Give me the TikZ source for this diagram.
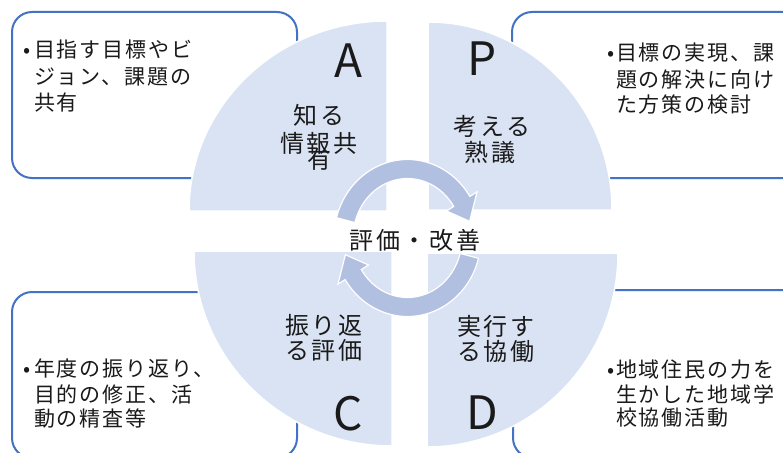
\documentclass[tikz,border=0pt]{standalone}
\usepackage{fontspec}
\setmainfont{Noto Sans CJK JP}
\newfontfamily\qfont[LetterSpace=12]{Noto Sans CJK JP}
\newfontfamily\bfontx[LetterSpace=9]{Noto Sans CJK JP}
\definecolor{quadfill}{HTML}{DAE3F3}
\definecolor{arrowfill}{HTML}{B1BFE0}
\definecolor{boxblue}{HTML}{4472C4}
\definecolor{txt}{HTML}{1A1A1A}
\begin{document}
\begin{tikzpicture}[x=1pt,y=-1pt,
  infobox/.style={draw=boxblue, line width=2pt, rounded corners=20pt, fill=white},
  quad/.style={fill=quadfill, draw=white, line width=1.5pt},
  carrow/.style={fill=arrowfill, draw=white, line width=1.2pt, line join=miter},
  qtext/.style={anchor=base, inner sep=0pt, outer sep=0pt, font=\qfont\fontsize{24}{28}\selectfont, text=txt},
  letter/.style={anchor=base, inner sep=0pt, outer sep=0pt, font=\fontsize{46}{50}\selectfont, text=txt},
  btext/.style={anchor=base west, inner sep=0pt, outer sep=0pt, font=\bfontx\fontsize{21}{25}\selectfont, text=txt},
  bul/.style={anchor=base, inner sep=0pt, outer sep=0pt, font=\fontsize{21}{25}\selectfont, text=txt}]
\useasboundingbox (0,0) rectangle (783,452);
\fill[white] (0,0) rectangle (783,452);
% boxes
\draw[infobox] (12,12) rectangle (297,178);
\draw[infobox] (512,12) rectangle (815,178);
\draw[infobox] (12,292) rectangle (297,458);
\draw[infobox] (513,290) rectangle (815,458);
% quadrants
\path[quad] (387,211) -- (189,211) arc[start angle=180,end angle=270,x radius=198,y radius=190] -- cycle;
\path[quad] (428,210) -- (428,22) arc[start angle=270,end angle=360,x radius=184,y radius=188] -- cycle;
\path[quad] (392,251) -- (194,251) arc[start angle=180,end angle=90,x radius=198,y radius=195] -- cycle;
\path[quad] (427,253) -- (618,253) arc[start angle=0,end angle=90,x radius=191,y radius=194] -- cycle;
% circular arrows
\path[carrow] ({407.5+73.5*cos(195)},{238+78.5*sin(195)})
  arc[start angle=195,end angle=328,x radius=73.5,y radius=78.5]
  -- ({407.5+82*cos(328)},{238+87*sin(328)})
  -- ({407.5+64*cos(346)},{238+69*sin(346)})
  -- ({407.5+46*cos(328)},{238+51*sin(328)})
  -- ({407.5+54.5*cos(328)},{238+59.5*sin(328)})
  arc[start angle=328,end angle=195,x radius=54.5,y radius=59.5] -- cycle;
\path[carrow] ({407.5+73.5*cos(15)},{238+78.5*sin(15)})
  arc[start angle=15,end angle=148,x radius=73.5,y radius=78.5]
  -- ({407.5+82*cos(148)},{238+87*sin(148)})
  -- ({407.5+64*cos(166)},{238+69*sin(166)})
  -- ({407.5+46*cos(148)},{238+51*sin(148)})
  -- ({407.5+54.5*cos(148)},{238+59.5*sin(148)})
  arc[start angle=148,end angle=15,x radius=54.5,y radius=59.5] -- cycle;
% quadrant texts
\node[letter] (la) at (348,77) {A};
\node[qtext] (a1) at (319,124) {知る};
\node[qtext] (a2) at (319,152) {情報共};
\node[qtext] (a3) at (319,168) {有};
\node[letter] (lp) at (482,75) {P};
\node[qtext] (p1) at (492,135) {考える};
\node[qtext] (p2) at (490,161) {熟議};
\node[qtext] (c1) at (324,334) {振り返};
\node[qtext] (c2) at (324,359) {る評価};
\node[letter] (lc) at (348,430) {C};
\node[qtext] (d1) at (496,335) {実行す};
\node[qtext] (d2) at (496,360) {る協働};
\node[letter] (ld) at (482,429) {D};
\node[qtext] (center) at (415,249) {評価・改善};
% box texts
\node[bul] (b1) at (27,57) {•};
\node[btext] (t11) at (34,57) {目指す目標やビ};
\node[btext] (t12) at (34,84) {ジョン、課題の};
\node[btext] (t13) at (34,110) {共有};
\node[bul] (b2) at (611,60) {•};
\node[btext] (t21) at (616,60) {目標の実現、課};
\node[btext] (t22) at (616,87) {題の解決に向け};
\node[btext] (t23) at (616,112) {た方策の検討};
\node[bul] (b3) at (27,376) {•};
\node[btext] (t31) at (34,376) {年度の振り返り、};
\node[btext] (t32) at (34,402) {目的の修正、活};
\node[btext] (t33) at (34,426) {動の精査等};
\node[bul] (b4) at (611,377) {•};
\node[btext] (t41) at (616,377) {地域住民の力を};
\node[btext] (t42) at (616,402) {生かした地域学};
\node[btext] (t43) at (616,425) {校協働活動};
\end{tikzpicture}
\end{document}
